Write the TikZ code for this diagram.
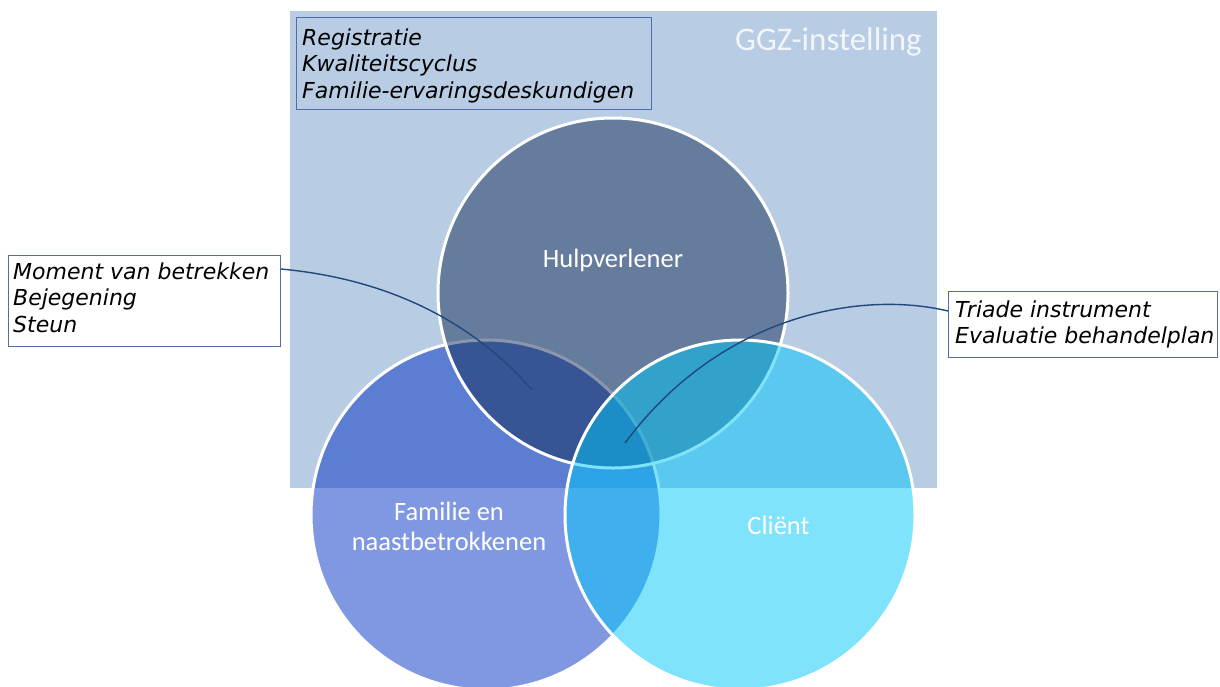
\documentclass[tikz,border=0pt]{standalone}
\usepackage{fontspec}
\newfontfamily\boxfont{DejaVu Sans}
\newfontfamily\lblfont{Carlito}
\definecolor{bgblue}{RGB}{184,204,228}
\definecolor{famcol}{RGB}{0,50,195}
\definecolor{hulpcol}{RGB}{20,46,88}
\definecolor{clientcol}{RGB}{0,200,250}
\definecolor{linkcol}{RGB}{31,73,125}
\definecolor{boxline}{RGB}{79,110,165}
\definecolor{ggzcol}{RGB}{242,246,251}
\begin{document}
\begin{tikzpicture}[x=1pt,y=-1pt,
  venn/.style={circle, draw=white, line width=3pt, fill opacity=0.5, minimum size=350pt, inner sep=0pt},
  infobox/.style={draw=boxline, line width=0.9pt, anchor=north west, inner sep=0pt},
  boxtext/.style={anchor=north west, inner sep=0pt, align=left, font=\boxfont\itshape\fontsize{22}{26.7}\selectfont},
  vlabel/.style={text=white, font=\lblfont\fontsize{26.5}{32}\selectfont, anchor=base, inner sep=0pt},
  link/.style={draw=linkcol, line width=1.4pt}]
\useasboundingbox (0,0) rectangle (1220,686);
\clip (0,0) rectangle (1220,686);
% organisation background
\node[fill=bgblue, minimum width=647pt, minimum height=477pt, anchor=north west, inner sep=0pt] (ggz) at (290,11) {};
% Venn circles
\node[venn, fill=famcol] (fam) at (486,515) {};
\node[venn, fill=hulpcol] (hulp) at (613,293) {};
\node[venn, fill=clientcol] (client) at (740,515) {};
% boxes
\node[infobox, minimum width=355pt, minimum height=92pt] (regbox) at (296,17) {};
\node[boxtext] (regtext) at (302,28) {\rule{0pt}{17pt}Registratie\\Kwaliteitscyclus\\Familie-ervaringsdeskundigen};
\node[infobox, fill=white, minimum width=272pt, minimum height=91pt] (lbox) at (8,255) {};
\node[boxtext] (ltext) at (13,262) {\rule{0pt}{17pt}Moment van betrekken\\Bejegening\\Steun};
\node[infobox, fill=white, minimum width=269pt, minimum height=66pt] (rbox) at (948,291) {};
\node[boxtext] (rtext) at (955,300) {\rule{0pt}{17pt}Triade instrument\\Evaluatie behandelplan};
% connectors
\coordinate (lend) at (532,390);
\coordinate (rend) at (625,443);
\draw[link] (lbox.north east) ++(0,14) .. controls (400,280) and (480,330) .. (lend);
\draw[link] (rbox.north west) ++(0,20) .. controls (860,290) and (720,315) .. (rend);
% labels
\node[vlabel] (hulplbl) at (613,267) {Hulpverlener};
\node[vlabel] (famlbl1) at (449,520) {Familie en};
\node[vlabel] (famlbl2) at (449,550) {naastbetrokkenen};
\node[vlabel] (clientlbl) at (778.5,534) {Cliënt};
\node[text=ggzcol, font=\lblfont\fontsize{33}{40}\selectfont, anchor=base east, inner sep=0pt] (ggzlbl) at (922,50) {GGZ-instelling};
\end{tikzpicture}
\end{document}
